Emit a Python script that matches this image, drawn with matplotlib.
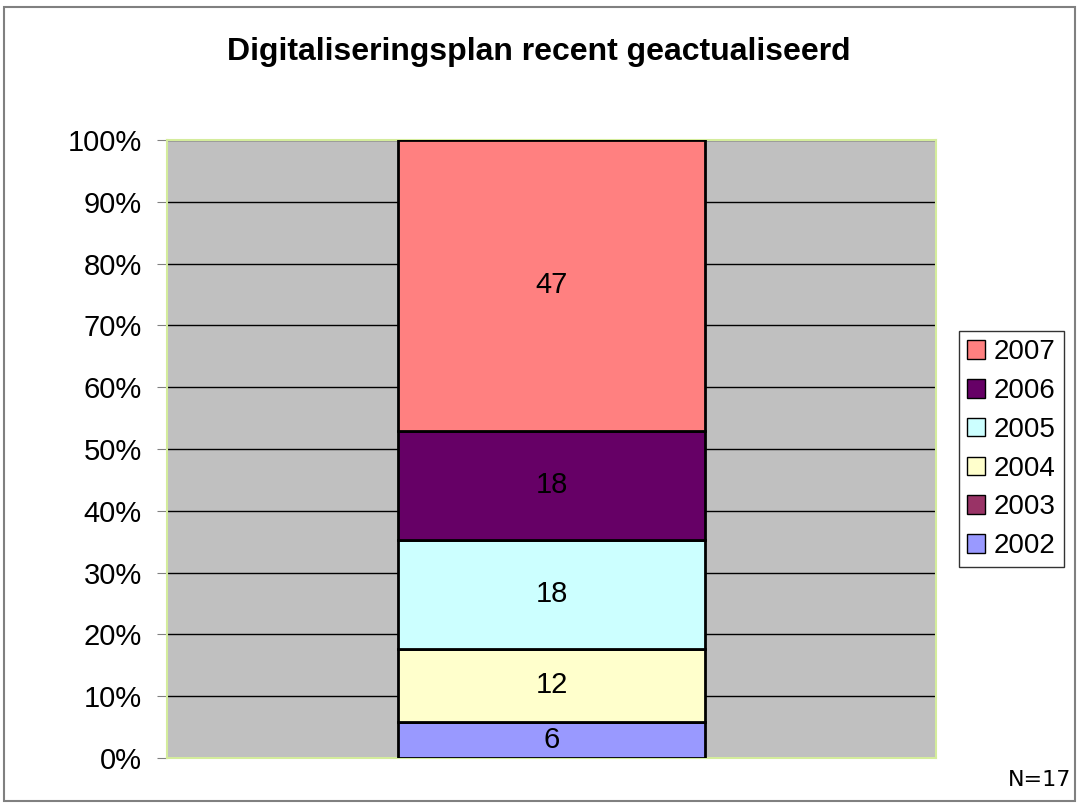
import matplotlib
matplotlib.use("Agg")
import matplotlib.pyplot as plt
from matplotlib.patches import Rectangle, Patch

years = ["2002", "2003", "2004", "2005", "2006", "2007"]
percentages = [5.88, 0.0, 11.76, 17.65, 17.65, 47.06]
colors = ["#9999FF", "#993366", "#FFFFCC", "#CCFFFF", "#660066", "#FF8080"]
yticks = [0, 10, 20, 30, 40, 50, 60, 70, 80, 90, 100]
title = "Digitaliseringsplan recent geactualiseerd"
note = "N=17"

plt.rcParams['font.family'] = ['Liberation Sans', 'DejaVu Sans']

fig = plt.figure(figsize=(10.78, 8.05), dpi=100)
fig.patches.append(Rectangle((0.004, 0.005), 0.993, 0.986, transform=fig.transFigure,
                             fill=False, edgecolor="#808080", linewidth=1.5))

ax = fig.add_axes([0.1549, 0.0584, 0.7134, 0.7677])
ax.set_facecolor("#C0C0C0")

bottom = 0.0
for yr, v, c in zip(years, percentages, colors):
    ax.bar(0, v, width=0.4, bottom=bottom, color=c, edgecolor="black", linewidth=2, zorder=3)
    if v > 0:
        ax.text(0, bottom + v / 2, f"{v:.0f}", ha="center", va="center", fontsize=21, zorder=4)
    bottom += v

ax.set_xlim(-0.5, 0.5)
ax.set_ylim(0, 100)
ax.set_yticks(yticks)
ax.set_yticklabels([f"{t}%" for t in yticks], fontsize=21)
ax.set_xticks([])
ax.yaxis.grid(True, color="black", linewidth=1, zorder=1)
ax.set_axisbelow(True)
ax.tick_params(axis="y", length=7, color="#808080", pad=11)
for s in ax.spines.values():
    s.set_color("#D4EC9C")
    s.set_linewidth(1.5)

fig.text(0.5, 0.936, title, ha="center", va="center", fontsize=23, fontweight="bold")
fig.text(0.994, 0.031, note, ha="right", va="center", fontsize=16, family="DejaVu Sans")

handles = [Patch(facecolor=c, edgecolor="black", linewidth=1) for c in colors][::-1]
labels = years[::-1]
leg = fig.legend(handles, labels, loc="center", bbox_to_anchor=(0.9383, 0.442),
                 fontsize=20, frameon=True, fancybox=False, edgecolor="black",
                 handlelength=0.65, handleheight=0.65, handletextpad=0.3,
                 labelspacing=0.46, borderpad=0.3, borderaxespad=0)
leg.get_frame().set_linewidth(1)

fig.savefig("out.png", dpi=100)
